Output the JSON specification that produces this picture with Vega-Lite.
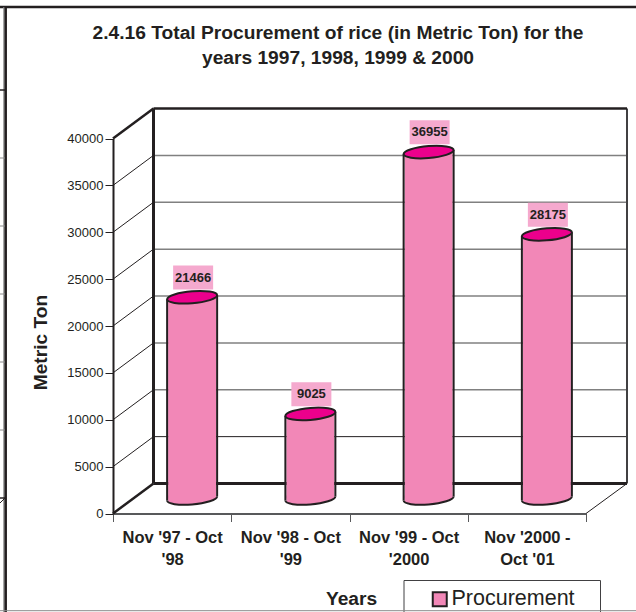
{
"$schema":"https://vega.github.io/schema/vega-lite/v6.json",
"width":514,"height":405.5,
"autosize":{"type":"none"},
"padding":{"left":113,"top":108,"right":9,"bottom":98.5},
"background":"white",
"config":{"view":{"stroke":null},"font":"Liberation Sans"},
"title":{"text":["2.4.16 Total Procurement of rice (in Metric Ton) for the","years 1997, 1998, 1999 & 2000"],"fontSize":19.2,"fontWeight":"bold","color":"#231F20","font":"Liberation Sans","lineHeight":25,"anchor":"middle","dx":-32,"offset":-62.5},
"datasets":{
"rows":[
{"period":"Nov '97 - Oct\n'98","value":21466,"series":"Procurement"},
{"period":"Nov '98 - Oct\n'99","value":9025,"series":"Procurement"},
{"period":"Nov '99 - Oct\n'2000","value":36955,"series":"Procurement"},
{"period":"Nov '2000 -\nOct '01","value":28175,"series":"Procurement"}
],
"ticks":[{"tick":5000},{"tick":10000},{"tick":15000},{"tick":20000},{"tick":25000},{"tick":30000},{"tick":35000}],
"page":[{"tick":40000}]
},
"layer":[
{"data":{"name":"ticks"},"mark":{"type":"rule","yOffset":-30,"y2Offset":-30},"encoding":{"x":{"value":40.5},"x2":{"value":514},"stroke":{"condition":{"test":"datum.tick===5000","value":"#231F20"},"value":"#808080"},"strokeWidth":{"condition":{"test":"datum.tick===5000","value":1},"value":1.5},"y":{"field":"tick","type":"quantitative","scale":{"domain":[0,40000],"range":[405.5,30.5]},"axis":{"values":[0,5000,10000,15000,20000,25000,30000,35000,40000],"title":"Metric Ton","titleFontSize":19.2,"titleFontWeight":"bold","titleColor":"#231F20","titleBaseline":"alphabetic","titleX":-67,"titleY":234,"labelFontSize":13,"labelColor":"#231F20","labelFontWeight":"normal","tickColor":"#231F20","tickSize":8,"tickWidth":1,"domainColor":"#231F20","domainWidth":2,"labelPadding":2,"grid":false,"format":"d"}},"y2":{"field":"tick"}}},
{"data":{"name":"ticks"},"mark":{"type":"rule","stroke":"#231F20","strokeWidth":1,"y2Offset":-30},"encoding":{"x":{"value":0},"x2":{"value":40.5},"y":{"field":"tick","type":"quantitative"},"y2":{"field":"tick"}}},
{"data":{"name":"page"},"mark":{"type":"rule","stroke":"#231F20","strokeWidth":2.5,"y2Offset":-30},"encoding":{"x":{"value":0},"x2":{"value":40.5},"y":{"datum":40000,"type":"quantitative"},"y2":{"datum":40000}}},
{"data":{"name":"page"},"mark":{"type":"rule","stroke":"#231F20","strokeWidth":2.5,"y2Offset":-30},"encoding":{"x":{"value":0},"x2":{"value":40.5},"y":{"datum":0,"type":"quantitative"},"y2":{"datum":0}}},
{"data":{"name":"page"},"mark":{"type":"rule","stroke":"#231F20","strokeWidth":1,"y2Offset":-30},"encoding":{"x":{"value":473},"x2":{"value":514},"y":{"datum":0,"type":"quantitative"},"y2":{"datum":0}}},
{"data":{"name":"page"},"mark":{"type":"rule","stroke":"#231F20","strokeWidth":3,"yOffset":-30,"y2Offset":-30},"encoding":{"x":{"value":40.5},"y":{"datum":0,"type":"quantitative"},"y2":{"datum":40000}}},
{"data":{"name":"page"},"mark":{"type":"rule","stroke":"#414042","strokeWidth":2,"yOffset":-30,"y2Offset":-30},"encoding":{"x":{"value":514},"y":{"datum":0,"type":"quantitative"},"y2":{"datum":40000}}},
{"data":{"name":"page"},"mark":{"type":"rule","stroke":"#231F20","strokeWidth":2.5,"yOffset":-30},"encoding":{"x":{"value":40.5},"x2":{"value":514},"y":{"datum":40000,"type":"quantitative"}}},
{"data":{"name":"page"},"mark":{"type":"rule","stroke":"#231F20","strokeWidth":3,"yOffset":-30},"encoding":{"x":{"value":40.5},"x2":{"value":514},"y":{"datum":0,"type":"quantitative"}}},
{"data":{"name":"rows"},"mark":{"type":"bar","size":48,"xOffset":20,"yOffset":-15,"y2Offset":-15,"stroke":null},"encoding":{
 "x":{"field":"period","type":"nominal","sort":null,"scale":{"type":"band","range":[0,473],"paddingInner":0,"paddingOuter":0},"axis":{"title":"Years","titleFontSize":19.2,"titleFontWeight":"bold","titleColor":"#231F20","titleBaseline":"alphabetic","titleX":238,"titleY":90.5,"labelAngle":0,"labelFontSize":16.5,"labelFontWeight":"bold","labelColor":"#231F20","labelExpr":"split(datum.label,'\\n')","labelLineHeight":22,"labelPadding":8,"labelLimit":0,"tickBand":"extent","tickColor":"#58595B","tickSize":8,"tickWidth":1,"domainColor":"#58595B","domainWidth":2}},
 "y":{"field":"value","type":"quantitative"},"y2":{"datum":0},
 "fill":{"field":"series","type":"nominal","scale":{"range":["#F287B7"]},"legend":{"title":null,"orient":"none","legendX":291,"legendY":470.5,"padding":10,"symbolType":"square","symbolSize":196,"symbolStrokeColor":"#231F20","symbolStrokeWidth":2,"symbolOffset":15,"labelOffset":1,"labelFontSize":21.5,"labelColor":"#231F20"}}}},
{"data":{"name":"rows"},"mark":{"type":"point","filled":true,"size":4,"fill":"#F287B7","stroke":null,"opacity":1,"xOffset":20,"yOffset":-15,"shape":"M-24,-3 L-24,2 C-24,5.3 -13.8,7.1 0,6 C13.8,4.9 24,1.3 24,-2 L24,-3 Z"},"encoding":{"x":{"field":"period","type":"nominal","sort":null},"y":{"datum":0,"type":"quantitative"}}},
{"data":{"name":"rows"},"mark":{"type":"point","filled":false,"size":4,"stroke":"#231F20","strokeWidth":2,"opacity":1,"xOffset":20,"yOffset":-15,"shape":"M-25,2 C-25,5.3 -13.8,7.1 0,6 C13.8,4.9 25,1.3 25,-2"},"encoding":{"x":{"field":"period","type":"nominal","sort":null},"y":{"datum":0,"type":"quantitative"}}},
{"data":{"name":"rows"},"mark":{"type":"rule","stroke":"#231F20","strokeWidth":2,"xOffset":-5,"yOffset":-13,"y2Offset":-13},"encoding":{"x":{"field":"period","type":"nominal","sort":null},"y":{"field":"value","type":"quantitative"},"y2":{"datum":0}}},
{"data":{"name":"rows"},"mark":{"type":"rule","stroke":"#231F20","strokeWidth":2,"xOffset":45,"yOffset":-17,"y2Offset":-17},"encoding":{"x":{"field":"period","type":"nominal","sort":null},"y":{"field":"value","type":"quantitative"},"y2":{"datum":0}}},
{"data":{"name":"rows"},"mark":{"type":"point","filled":true,"size":4,"fill":"#EC008C","stroke":"#231F20","strokeWidth":2,"opacity":1,"xOffset":20,"yOffset":-15,"shape":"M-25,2 C-25,-1.3 -13.8,-4.9 0,-6 C13.8,-7.1 25,-5.3 25,-2 C25,1.3 13.8,4.9 0,6 C-13.8,7.1 -25,5.3 -25,2 Z"},"encoding":{"x":{"field":"period","type":"nominal","sort":null},"y":{"field":"value","type":"quantitative"}}},
{"data":{"name":"rows"},"mark":{"type":"point","filled":true,"size":4,"fill":"#F5A9CE","stroke":null,"opacity":1,"xOffset":21,"yOffset":-34.7,"shape":"M-20,-12 H20 V12 H-20 Z"},"encoding":{"x":{"field":"period","type":"nominal","sort":null},"y":{"field":"value","type":"quantitative"}}},
{"data":{"name":"rows"},"mark":{"type":"text","font":"Liberation Sans","fontSize":13,"fontWeight":"bold","color":"#231F20","xOffset":21,"yOffset":-34.7,"baseline":"middle"},"encoding":{"x":{"field":"period","type":"nominal","sort":null},"y":{"field":"value","type":"quantitative"},"text":{"field":"value","type":"quantitative","format":"d"}}},
{"data":{"name":"page"},"mark":{"type":"rect","fill":"none","stroke":"#414042","strokeWidth":1},"encoding":{"x":{"value":291},"x2":{"value":487.5},"y":{"value":472.5},"y2":{"value":520}}},
{"data":{"name":"page"},"mark":{"type":"rule","stroke":"#231F20","strokeWidth":2.5},"encoding":{"x":{"value":-113},"x2":{"value":523},"y":{"value":-101}}},
{"data":{"name":"page"},"mark":{"type":"rule","stroke":"#8A8A8A","strokeWidth":1.5},"encoding":{"x":{"value":-109},"y":{"value":-101},"y2":{"value":504}}},
{"data":{"name":"page"},"mark":{"type":"rule","stroke":"#231F20","strokeWidth":2.5},"encoding":{"x":{"value":-107.3},"y":{"value":-101},"y2":{"value":504}}},
{"data":{"name":"page"},"mark":{"type":"rule","stroke":"#8A8A8A","strokeWidth":1},"encoding":{"x":{"value":-113},"x2":{"value":523},"y":{"value":502.7}}},
{"data":{"name":"page"},"mark":{"type":"rule","stroke":"#231F20","strokeWidth":1.5},"encoding":{"x":{"value":-113},"x2":{"value":-108},"y":{"value":-18}}},
{"data":{"name":"page"},"mark":{"type":"rule","stroke":"#8A8A8A","strokeWidth":1},"encoding":{"x":{"value":-113},"x2":{"value":-108},"y":{"value":50}}},
{"data":{"name":"page"},"mark":{"type":"rule","stroke":"#8A8A8A","strokeWidth":1},"encoding":{"x":{"value":-113},"x2":{"value":-108},"y":{"value":118}}},
{"data":{"name":"page"},"mark":{"type":"rule","stroke":"#8A8A8A","strokeWidth":1},"encoding":{"x":{"value":-113},"x2":{"value":-108},"y":{"value":186}}},
{"data":{"name":"page"},"mark":{"type":"rule","stroke":"#8A8A8A","strokeWidth":1},"encoding":{"x":{"value":-113},"x2":{"value":-108},"y":{"value":254}}},
{"data":{"name":"page"},"mark":{"type":"rule","stroke":"#8A8A8A","strokeWidth":1},"encoding":{"x":{"value":-113},"x2":{"value":-108},"y":{"value":322}}},
{"data":{"name":"page"},"mark":{"type":"rule","stroke":"#231F20","strokeWidth":1.5},"encoding":{"x":{"value":-113},"x2":{"value":-108},"y":{"value":390}}},
{"data":{"name":"page"},"mark":{"type":"rule","stroke":"#231F20","strokeWidth":1},"encoding":{"x":{"value":-113},"x2":{"value":-108},"y":{"value":395},"y2":{"value":390}}}
],
"resolve":{"scale":{"x":"shared","y":"shared"}}
}
